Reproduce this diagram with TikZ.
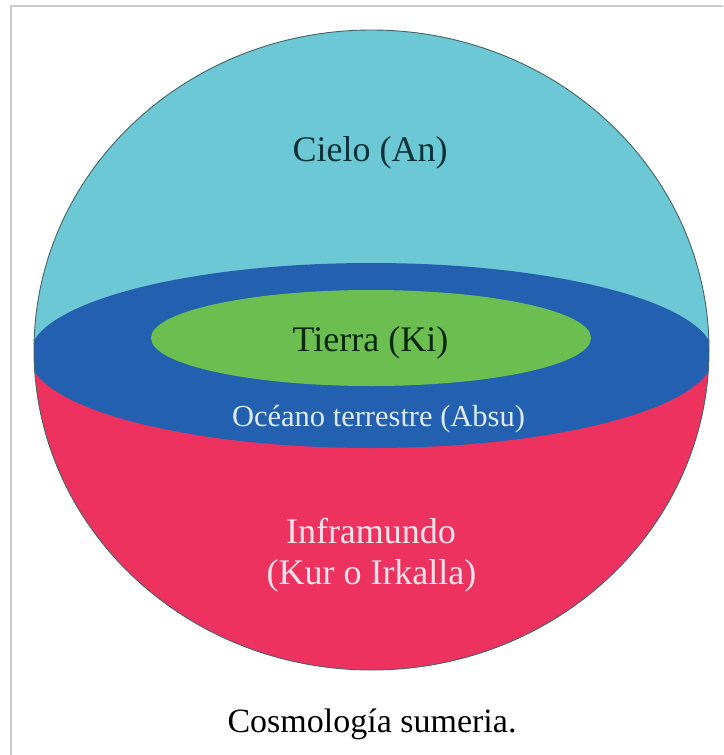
\documentclass[tikz,border=0pt]{standalone}
\usepackage{fontspec}
\setmainfont{Liberation Serif}
\definecolor{sky}{RGB}{108,200,212}
\definecolor{ocean}{RGB}{36,96,176}
\definecolor{earth}{RGB}{108,190,80}
\definecolor{under}{RGB}{238,50,95}
\definecolor{rim}{RGB}{70,100,100}
\definecolor{frame}{RGB}{205,205,205}
\begin{document}
\begin{tikzpicture}[x=1pt, y=-1pt,
	big/.style = {font=\fontsize{36}{41}\selectfont, inner sep=0pt, anchor=base},
	small/.style = {font=\fontsize{30.5}{34}\selectfont, inner sep=0pt, anchor=base}]
	\useasboundingbox (0,0) rectangle (723,755);
	\draw[frame, line width=1.5pt] (11,755) -- (11,6) -- (723,6);
	\begin{scope}
		\clip (371.5,350) ellipse [x radius=337.5, y radius=320];
		\fill[sky]	(0,0)	rectangle (723,355);
		\fill[under]	(0,355)	rectangle (723,700);
		\fill[ocean]	(371.5,355.5) ellipse [x radius=342, y radius=92.5];
	\end{scope}
	\fill[earth]	(371,338) ellipse [x radius=220, y radius=48];
	\draw[rim, line width=0.9pt] (371.5,350) ellipse [x radius=337.5, y radius=320];
	\node (cielo)	at (370,161)	[big, text={rgb,255:red,10;green,50;blue,55}]	{Cielo (An)};
	\node (tierra)	at (370.5,351)	[big, text={rgb,255:red,10;green,40;blue,15}]	{Tierra (Ki)};
	\node (oceano)	at (378.5,426)	[small, text={rgb,255:red,220;green,235;blue,255}]	{Océano terrestre (Absu)};
	\node (infra)	at (371,543)	[big, text={rgb,255:red,255;green,228;blue,236}]	{Inframundo};
	\node (kur)	at (371.5,584)	[big, text={rgb,255:red,255;green,228;blue,236}]	{(Kur o Irkalla)};
	\node (caption)	at (372,732)	[big, font=\fontsize{34}{40}\selectfont]	{Cosmología sumeria.};
\end{tikzpicture}
\end{document}
